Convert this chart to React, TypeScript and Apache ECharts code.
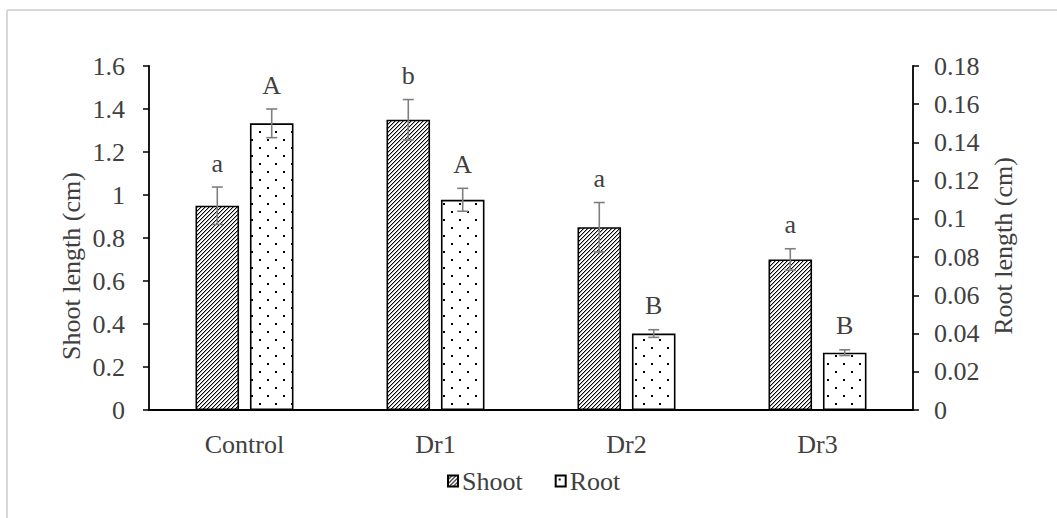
import React, { useEffect, useRef } from "react";
import * as echarts from "echarts";

const categories = ["Control", "Dr1", "Dr2", "Dr3"];
const shootValues = [0.95, 1.35, 0.85, 0.7];
const shootErrors = [0.087, 0.094, 0.115, 0.05];
const shootLetters = ["a", "b", "a", "a"];
const rootValues = [0.15, 0.11, 0.04, 0.03];
const rootErrors = [0.0075, 0.006, 0.002, 0.0015];
const rootLetters = ["A", "A", "B", "B"];
const leftTicks = { min: 0, max: 1.6, interval: 0.2 };
const rightTicks = { min: 0, max: 0.18, interval: 0.02 };
const leftTitle = "Shoot length (cm)";
const rightTitle = "Root length (cm)";

const FONT = "'Liberation Serif', 'Times New Roman', serif";
const FS = 26;
const BAR_W = 0.228;
const BAR_GAP = 0.25;

function makeHatch() {
  const c = document.createElement("canvas");
  c.width = 4;
  c.height = 4;
  const g = c.getContext("2d")!;
  g.fillStyle = "#fff";
  g.fillRect(0, 0, 4, 4);
  for (let y = 0; y < 4; y++) {
    g.fillStyle = "#000";
    g.fillRect(3 - y, y, 1, 1);
    g.fillStyle = "#a8a8a8";
    g.fillRect((4 - y) % 4, y, 1, 1);
  }
  return c;
}

function makeDots() {
  const c = document.createElement("canvas");
  c.width = 16;
  c.height = 16;
  const g = c.getContext("2d")!;
  g.fillStyle = "#fff";
  g.fillRect(0, 0, 16, 16);
  g.fillStyle = "#000";
  g.fillRect(3, 3, 2, 2);
  g.fillRect(11, 11, 2, 2);
  return c;
}

function errorSeries(values: number[], errors: number[], letters: string[], side: number, yAxisIndex: number) {
  return {
    type: "custom",
    yAxisIndex,
    silent: true,
    z: 10,
    data: values.map((v, i) => [i, v, errors[i]]),
    renderItem: (params: any, api: any) => {
      const idx = api.value(0);
      const v = api.value(1);
      const e = api.value(2);
      const catW = api.size([1, 0])[0];
      const bw = catW * BAR_W;
      const gap = bw * BAR_GAP;
      const off = (side * (bw + gap)) / 2;
      const top = api.coord([idx, v + e]);
      const bot = api.coord([idx, v - e]);
      const x = top[0] + off;
      const cap = 5.5;
      const st = { stroke: "#7f7f7f", lineWidth: 1.6 };
      return {
        type: "group",
        children: [
          { type: "line", shape: { x1: x, y1: top[1], x2: x, y2: bot[1] }, style: st },
          { type: "line", shape: { x1: x - cap, y1: top[1], x2: x + cap, y2: top[1] }, style: st },
          { type: "line", shape: { x1: x - cap, y1: bot[1], x2: x + cap, y2: bot[1] }, style: st },
          {
            type: "text",
            style: {
              text: letters[idx],
              x,
              y: top[1] - 24,
              fill: "#404040",
              font: `${FS}px ${FONT}`,
              align: "center",
              verticalAlign: "middle",
            },
          },
        ],
      };
    },
  };
}

export default function App() {
  const ref = useRef<HTMLDivElement>(null);
  useEffect(() => {
    if (!ref.current) return;
    const chart = echarts.init(ref.current, undefined, { renderer: "svg" });
    const hatch = { image: makeHatch(), repeat: "repeat" };
    const dots = { image: makeDots(), repeat: "repeat" };
    const labelStyle = { color: "#404040", fontFamily: FONT, fontSize: FS };
    const fmt = (v: number) => String(+v.toFixed(2));
    const borderStyle = { stroke: "#d9d9d9", lineWidth: 2 };
    const titleStyle = {
      fill: "#404040",
      font: `${FS}px ${FONT}`,
      align: "center",
      verticalAlign: "middle",
    };
    chart.setOption({
      animation: false,
      backgroundColor: "#fff",
      graphic: [
        { type: "line", shape: { x1: 7, y1: 10, x2: 1057, y2: 10 }, style: borderStyle, silent: true },
        { type: "line", shape: { x1: 7, y1: 10, x2: 7, y2: 518 }, style: borderStyle, silent: true },
        {
          type: "text",
          x: 71,
          y: 266,
          rotation: Math.PI / 2,
          style: { ...titleStyle, text: leftTitle },
          silent: true,
        },
        {
          type: "text",
          x: 1003,
          y: 246,
          rotation: Math.PI / 2,
          style: { ...titleStyle, text: rightTitle },
          silent: true,
        },
      ],
      grid: { left: 149, right: 144, top: 66, bottom: 108 },
      legend: {
        data: ["Shoot", "Root"],
        top: 463,
        left: 442,
        icon: "rect",
        itemWidth: 10,
        itemHeight: 11,
        itemGap: 32,
        textStyle: { ...labelStyle, padding: [0, 0, 0, -1] },
      },
      xAxis: {
        type: "category",
        data: categories,
        axisLine: { lineStyle: { color: "#000", width: 1.8 } },
        axisTick: { show: false },
        axisLabel: { ...labelStyle, margin: 21 },
      },
      yAxis: [
        {
          type: "value",
          ...leftTicks,
          axisLine: { show: true, lineStyle: { color: "#000", width: 1.8 } },
          axisTick: { show: true, length: 6, lineStyle: { color: "#000", width: 1.5 } },
          axisLabel: { ...labelStyle, margin: 24, formatter: fmt },
          splitLine: { show: false },
        },
        {
          type: "value",
          position: "right",
          ...rightTicks,
          axisLine: { show: true, lineStyle: { color: "#000", width: 1.8 } },
          axisTick: { show: true, length: 6, lineStyle: { color: "#000", width: 1.5 } },
          axisLabel: { ...labelStyle, margin: 21, formatter: fmt },
          splitLine: { show: false },
        },
      ],
      series: [
        {
          name: "Shoot",
          type: "bar",
          yAxisIndex: 0,
          data: shootValues,
          barWidth: `${BAR_W * 100}%`,
          barGap: `${BAR_GAP * 100}%`,
          itemStyle: { color: hatch, borderColor: "#000", borderWidth: 1.6 },
        },
        {
          name: "Root",
          type: "bar",
          yAxisIndex: 1,
          data: rootValues,
          barWidth: `${BAR_W * 100}%`,
          barGap: `${BAR_GAP * 100}%`,
          itemStyle: { color: dots, borderColor: "#000", borderWidth: 1.6 },
        },
        errorSeries(shootValues, shootErrors, shootLetters, -1, 0),
        errorSeries(rootValues, rootErrors, rootLetters, 1, 1),
      ],
    });
    return () => chart.dispose();
  }, []);
  return (
    <div
      ref={ref}
      style={{ position: "absolute", left: 0, top: 0, width: 1057, height: 518 }}
    />
  );
}
